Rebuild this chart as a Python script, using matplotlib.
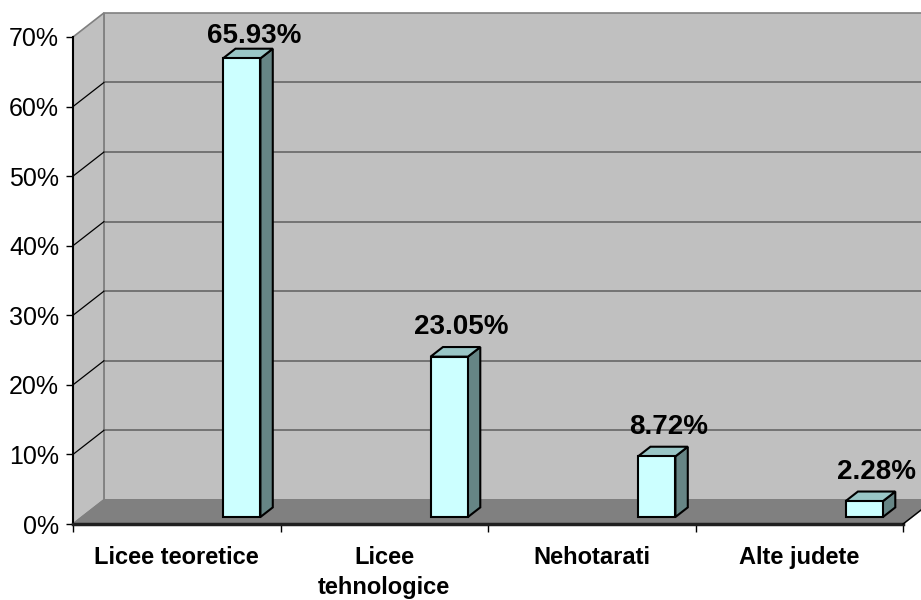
import matplotlib
matplotlib.use("Agg")
import matplotlib.pyplot as plt
from matplotlib.patches import Polygon
from matplotlib.ticker import FixedLocator, NullFormatter

plt.rcParams['font.family'] = ['Liberation Sans', 'DejaVu Sans']

categories = ["Licee teoretice", "Licee\ntehnologice", "Nehotarati", "Alte judete"]
values = [65.93, 23.05, 8.72, 2.28]
yticks = [0, 10, 20, 30, 40, 50, 60, 70]

# 3d look: depth vector (data units) of the whole box, and bar geometry
DX, DY = 0.149, 0.0346 * 100
D0, D1 = 0.29, 0.69          # bar front / back depth fraction
SHIFT, BW = 0.68, 0.18       # bar front-left offset in its category, width

WALL = "#C0C0C0"
FLOOR = "#808080"
FRONT, TOP, SIDE = "#CCFFFF", "#99C6C6", "#668585"

fig = plt.figure(figsize=(9.21, 6.0), dpi=100)
ax = fig.add_axes([73 / 921, 76 / 600, 830 / 921, 487 / 600])
ax.set_xlim(0, len(categories))
ax.set_ylim(0, 70)
ax.patch.set_visible(False)
for s in ax.spines.values():
    s.set_visible(False)


def p(x, y, d):
    return (x + d * DX, y + d * DY)


def face(pts, fc, ec="#808080", lw=1.2, z=1):
    ax.add_patch(Polygon(pts, closed=True, facecolor=fc, edgecolor=ec,
                         linewidth=lw, zorder=z, clip_on=False))


n = len(categories)
top = yticks[-1]
# walls and floor
face([p(0, 0, 1), p(n, 0, 1), p(n, top, 1), p(0, top, 1)], WALL)
face([p(0, 0, 0), p(0, top, 0), p(0, top, 1), p(0, 0, 1)], WALL)
face([p(0, 0, 0), p(n, 0, 0), p(n, 0, 1), p(0, 0, 1)], FLOOR, ec=FLOOR)

for t in yticks[1:-1]:
    xs, ys = zip(p(0, t, 1), p(n, t, 1))
    ax.plot(xs, ys, color="#6E6E6E", lw=1.3, zorder=2, clip_on=False)
    xs, ys = zip(p(0, t, 0), p(0, t, 1))
    ax.plot(xs, ys, color="black", lw=0.9, zorder=2, clip_on=False)

# axis lines
ax.plot([0, 0], [0, top], color="black", lw=1.5, zorder=3, clip_on=False)
ax.plot([0, n], [0, 0], color="#202020", lw=2.5, zorder=3, clip_on=False)
xs, ys = zip(p(n, 0, 0), p(n, 0, 1))
ax.plot(xs, ys, color="black", lw=1.0, zorder=3, clip_on=False)

# bars
for i, v in enumerate(values):
    x0 = i + SHIFT
    x1 = x0 + BW
    face([p(x1, 0, D0), p(x1, 0, D1), p(x1, v, D1), p(x1, v, D0)],
         SIDE, ec="black", lw=1.5, z=4)
    face([p(x0, v, D0), p(x1, v, D0), p(x1, v, D1), p(x0, v, D1)],
         TOP, ec="black", lw=1.5, z=4)
    face([p(x0, 0, D0), p(x1, 0, D0), p(x1, v, D0), p(x0, v, D0)],
         FRONT, ec="black", lw=1.5, z=5)
    # the top label sits lower, excel keeps it inside the chart area
    lift = 5 if v < 60 else 0
    ax.annotate(f"{v:.2f}%", p((x0 + x1) / 2, v, D1), xytext=(0, lift),
                textcoords="offset points", ha="center", va="bottom",
                fontsize=20, fontweight="bold", zorder=6)

# ticks
ax.yaxis.set_major_locator(FixedLocator(yticks))
ax.set_yticklabels([f"{t}%" for t in yticks])
ax.tick_params(axis="y", length=5, width=1, pad=5, labelsize=18)
ax.xaxis.set_major_locator(FixedLocator([i + 0.5 for i in range(n)]))
ax.set_xticklabels(categories, fontsize=17, fontweight="bold", linespacing=1.4,
                   va="top")
ax.tick_params(axis="x", which="major", length=0, pad=16)
ax.xaxis.set_minor_locator(FixedLocator(list(range(n + 1))))
ax.xaxis.set_minor_formatter(NullFormatter())
ax.tick_params(axis="x", which="minor", length=6, width=1)

fig.savefig("out.png", dpi=100, facecolor="white")
